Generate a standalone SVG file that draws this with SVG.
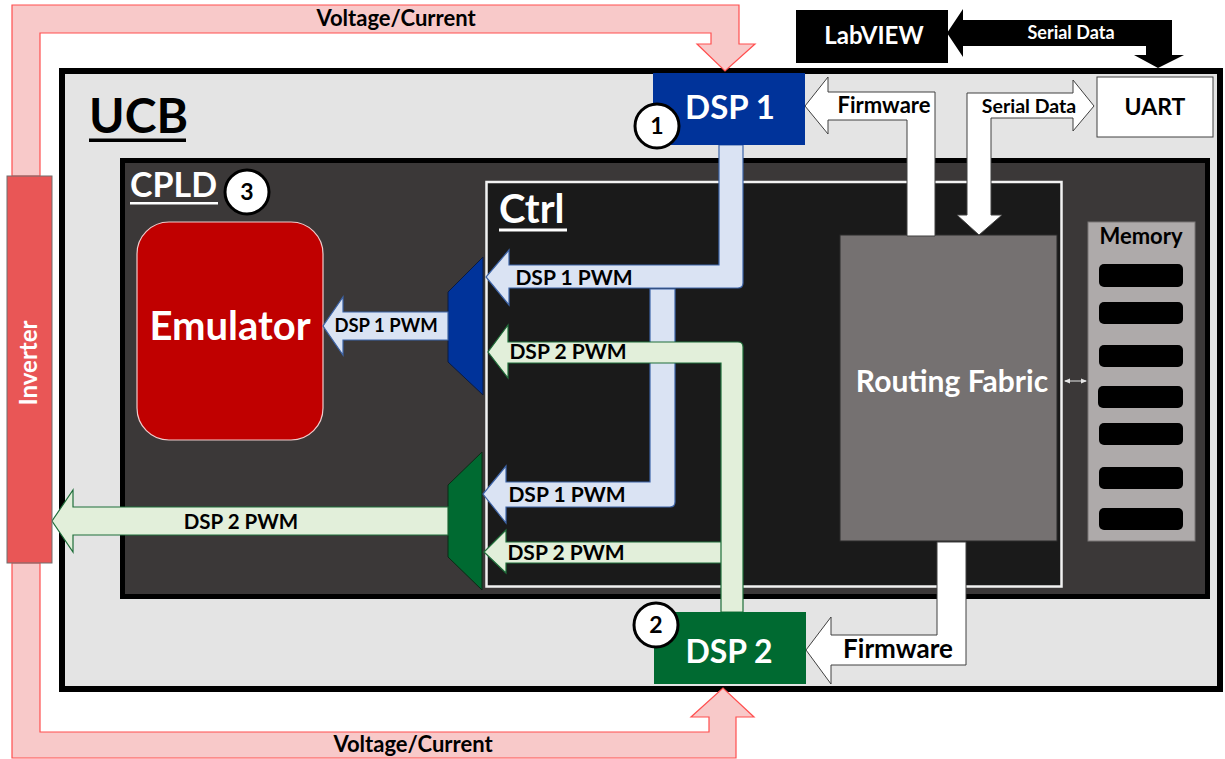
<svg xmlns="http://www.w3.org/2000/svg" width="1225" height="759" viewBox="0 0 1225 759">
<defs>
<style>
.t{font-family:Lato,"Liberation Sans",sans-serif;font-weight:bold}
.w{fill:#ffffff}
.k{fill:#000000}
.c{text-anchor:middle}
.pink{fill:#f8c9c9;stroke:#ff4f4f;stroke-width:1.2}
.blue{fill:#dae3f3;stroke:#3d64a8;stroke-width:1.2}
.green{fill:#e2efda;stroke:#1f6e3a;stroke-width:1.2}
.wa{fill:#ffffff;stroke:#404040;stroke-width:1}
.num{fill:#ffffff;stroke:#000000;stroke-width:3}
.slot{fill:#000000}
</style>
<marker id="ah" viewBox="0 0 6 6" refX="5" refY="3" markerWidth="6" markerHeight="6" orient="auto-start-reverse">
<path d="M0,0.5 L6,3 L0,5.5 Z" fill="#e6e6e6"/>
</marker>
</defs>
<rect width="1225" height="759" fill="#ffffff"/>

<g id="ucb">
<rect x="62" y="71" width="1158" height="618" fill="#e4e4e4" stroke="#000" stroke-width="6"/>
<text class="t k" x="89" y="133" font-size="48">UCB</text>
<rect x="89" y="138.5" width="97" height="3.5" fill="#000"/>
</g>

<g id="cpld">
<rect x="122.5" y="160.5" width="1085" height="436" fill="#3b3838" stroke="#000" stroke-width="5"/>
<text class="t w" x="130" y="197" font-size="34">CPLD</text>
<rect x="130" y="202" width="88" height="2.5" fill="#fff"/>
</g>

<g id="ctrl">
<rect x="486.5" y="182" width="575" height="404.5" fill="#1a1a1a" stroke="#f2f2f2" stroke-width="2.5"/>
<text class="t w" x="499" y="223" font-size="40">Ctrl</text>
<rect x="499" y="228.5" width="68" height="3" fill="#fff"/>
</g>

<g id="emulator">
<rect x="137" y="222" width="186" height="218" rx="32" fill="#c00000" stroke="#f0cccc" stroke-width="1.2"/>
<text class="t w c" x="230" y="340" font-size="40">Emulator</text>
</g>

<g id="routing-fabric">
<rect x="840" y="235" width="217" height="306" fill="#757171" stroke="#2a2a2a" stroke-width="1"/>
<text class="t w c" x="952" y="392" font-size="30">Routing Fabric</text>
</g>

<g id="memory">
<rect x="1088" y="222" width="107" height="319" fill="#aeaaaa" stroke="#7a7777" stroke-width="1"/>
<text class="t k c" x="1141" y="244" font-size="22">Memory</text>
<rect class="slot" x="1099" y="264" width="84" height="23" rx="5"/>
<rect class="slot" x="1099" y="302" width="84" height="22" rx="5"/>
<rect class="slot" x="1099" y="345" width="84" height="22" rx="5"/>
<rect class="slot" x="1098" y="386" width="85" height="22" rx="5"/>
<rect class="slot" x="1099" y="423" width="84" height="22" rx="5"/>
<rect class="slot" x="1099" y="467" width="84" height="22" rx="5"/>
<rect class="slot" x="1099" y="508" width="84" height="22" rx="5"/>
</g>

<g id="mux-dsp1">
<polygon points="448,292 483,257 483,395 448,362" fill="#00339a" stroke="#0a1a40" stroke-width="1"/>
</g>
<g id="mux-dsp2">
<polygon points="448,485 482,452 482,590 448,557" fill="#006a31" stroke="#0b2a14" stroke-width="1"/>
</g>

<g id="connectors">
<path class="pink" d="M12,176 L12,5 L739,5 L739,44 L755,44 L725,71 L697,44 L711,44 L711,33 L40,33 L40,176 Z"/>
<text class="t k c" x="396" y="26" font-size="22">Voltage/Current</text>
<path class="pink" d="M12,563 L12,758 L736,758 L736,717 L754,717 L723,688 L691,717 L709,717 L709,732 L40,732 L40,563 Z"/>
<text class="t k c" x="413" y="752" font-size="22">Voltage/Current</text>

<path fill="#000" d="M963,20 L1172,20 L1172,55 L1184,55 L1158,68 L1134,55 L1146,55 L1146,46 L963,46 L963,57 L947,33 L963,9 Z"/>
<text class="t w c" x="1071" y="39" font-size="18">Serial Data</text>

<path class="wa" d="M935,236 L935,92 L828,92 L828,77 L805,106 L828,134 L828,120 L907,120 L907,236 Z"/>
<text class="t k c" x="884" y="113" font-size="22">Firmware</text>

<path class="wa" d="M967,215 L957,215 L979,235 L1002,215 L991,215 L991,118 L1073,118 L1073,131 L1094,106 L1073,80 L1073,93 L967,93 Z"/>
<text class="t k c" x="1029" y="113" font-size="19.5">Serial Data</text>

<path class="wa" d="M937,542 L966,542 L966,665 L831,665 L831,684 L806,650 L831,617 L831,635 L937,635 Z"/>
<text class="t k c" x="898" y="658" font-size="26">Firmware</text>

<line x1="1065" y1="381" x2="1086" y2="381" stroke="#e6e6e6" stroke-width="1" marker-start="url(#ah)" marker-end="url(#ah)"/>

<path class="blue" d="M448,312 L343,312 L343,297 L323,326 L343,355 L343,340 L448,340 Z"/>
<text class="t k c" x="386" y="332" font-size="18.5">DSP 1 PWM</text>

<path class="green" d="M448,507 L73,507 L73,490 L52,521 L73,552 L73,535 L448,535 Z"/>
<text class="t k c" x="241" y="529" font-size="20.5">DSP 2 PWM</text>

<path class="blue" d="M719,145 L743,145 L743,283 Q743,288 738,288 L509,288 L509,305 L486,277 L509,250 L509,265 L719,265 Z"/>
<text class="t k c" x="574" y="285" font-size="21">DSP 1 PWM</text>

<path class="blue" d="M650,289 L675,289 L675,502 Q675,507 670,507 L506,507 L506,523 L483,494 L506,466 L506,482 L650,482 Z"/>
<text class="t k c" x="567" y="502" font-size="21">DSP 1 PWM</text>

<path class="green" d="M722,542 L506,542 L506,530 L484,552 L506,573 L506,563 L722,563 Z"/>
<text class="t k c" x="566" y="560" font-size="21">DSP 2 PWM</text>

<path class="green" d="M721,612 L721,363 L508,363 L508,378 L488,352 L508,325 L508,342 L738,342 Q743,342 743,347 L743,612 Z"/>
<text class="t k c" x="568" y="359" font-size="21">DSP 2 PWM</text>
</g>

<g id="inverter">
<rect x="7" y="176" width="45" height="387" fill="#e95656" stroke="#6f6f6f" stroke-width="1"/>
<text class="t w c" transform="translate(37,363) rotate(-90)" font-size="24">Inverter</text>
</g>

<g id="dsp1">
<rect x="653" y="73" width="152" height="72" fill="#00339a"/>
<text class="t w c" x="730" y="119" font-size="33">DSP 1</text>
<circle class="num" cx="657" cy="126" r="22"/>
<text class="t k c" x="657" y="134" font-size="23">1</text>
</g>

<g id="dsp2">
<rect x="654" y="612" width="152" height="72" fill="#006a31"/>
<text class="t w c" x="729" y="663" font-size="32">DSP 2</text>
<circle class="num" cx="656" cy="625" r="22"/>
<text class="t k c" x="656" y="633" font-size="23">2</text>
</g>

<g id="cpld-badge">
<circle class="num" cx="247" cy="192" r="22"/>
<text class="t k c" x="247" y="200" font-size="23">3</text>
</g>

<g id="uart">
<rect x="1097" y="77" width="116" height="60" fill="#ffffff" stroke="#404040" stroke-width="1"/>
<text class="t k c" x="1155" y="115" font-size="23">UART</text>
</g>

<g id="labview">
<rect x="796" y="10" width="152" height="53" fill="#000000"/>
<text class="t w c" x="874" y="44" font-size="24">LabVIEW</text>
</g>
</svg>
